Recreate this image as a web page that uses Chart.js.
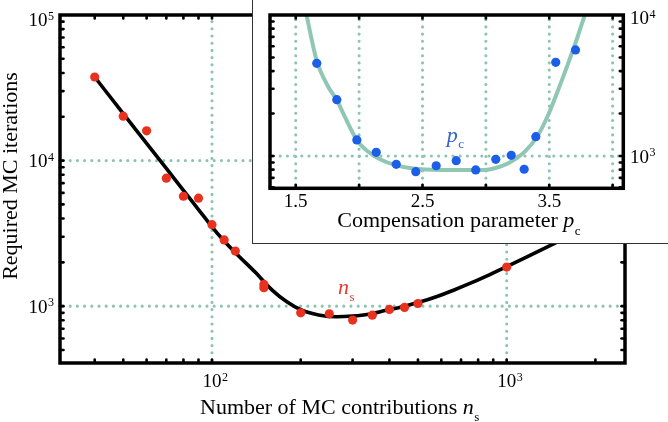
<!DOCTYPE html>
<html>
<head>
<meta charset="utf-8">
<script src="https://cdn.jsdelivr.net/npm/chart.js@4.4.0/dist/chart.umd.min.js"></script>
<style>
  html, body { margin: 0; padding: 0; background: #fff; }
  #wrap { position: relative; width: 668px; height: 422px; overflow: hidden; }
  #main { position: absolute; left: 0; top: 0; }
  #insetBox { position: absolute; left: 252px; top: -2px; width: 420px; height: 246px;
    box-sizing: border-box; border: 1.5px solid #333; background: #fff; }
  #inset { position: absolute; left: 253px; top: 0; }
</style>
</head>
<body>
<div id="wrap">
  <canvas id="main" width="668" height="422"></canvas>
  <div id="insetBox"></div>
  <canvas id="inset" width="415" height="242"></canvas>
</div>
<script>
// main plot: MC samples and fit
const mcContributions = [40, 50, 60, 70, 80, 90, 100, 110, 120, 150, 150, 200, 250, 300, 350, 400, 450, 500, 1000];
const mcIterations = [37500, 20200, 16000, 7570, 5690, 5520, 3630, 2850, 2390, 1410, 1340, 900, 886, 802, 867, 949, 980, 1043, 1857];
const fitContributions = [40, 50, 60, 70, 80, 90, 100, 110, 120, 140, 160, 180, 200, 230, 265, 300, 340, 390, 450, 510, 580, 660, 750, 850, 1000, 1200, 1500, 2000, 2500];
const fitIterations = [37500, 21000, 13150, 8830, 6250, 4610, 3510, 2800, 2330, 1715, 1290, 1067, 945, 871, 845, 855, 880, 937, 1000, 1071, 1166, 1287, 1432, 1603, 1871, 2233, 2791, 3722, 4652];

// inset: compensation parameter
const pcValues = [1.666, 1.824, 1.982, 2.135, 2.293, 2.447, 2.608, 2.766, 2.92, 3.078, 3.2, 3.302, 3.394, 3.551, 3.707];
const pcIterations = [4540, 2507, 1299, 1062, 873, 774, 853, 926, 796, 947, 1011, 805, 1371, 4620, 5650];
const pcFitValues = [1.585, 1.664, 1.756, 1.824, 1.887, 1.982, 2.072, 2.177, 2.282, 2.413, 2.65, 2.991, 3.07, 3.176, 3.307, 3.412, 3.491, 3.57, 3.649, 3.715, 3.78];
const pcFitIterations = [10000, 4800, 3100, 2495, 1900, 1298, 1073, 937, 864, 818, 796, 796, 818, 887, 1073, 1409, 1954, 2938, 4540, 6650, 10000];

// ticks and grid
const mainXLabels = [100, 1000];
const mainYLabels = [1000, 10000, 100000];
const mainXMinor = [40, 50, 60, 70, 80, 90, 100, 200, 300, 400, 500, 600, 700, 800, 900, 1000, 2000];
const mainYMinor = [500, 600, 700, 800, 900, 1000, 2000, 3000, 4000, 5000, 6000, 7000, 8000, 9000, 10000,
  20000, 30000, 40000, 50000, 60000, 70000, 80000, 90000];
const insetXLabels = [1.5, 2.5, 3.5];
const insetXGrid = [1.5, 2, 2.5, 3, 3.5, 4];
const insetYLabels = [1000, 10000];
const insetYMinor = [600, 700, 800, 900, 1000, 2000, 3000, 4000, 5000, 6000, 7000, 8000, 9000];

const SERIF = '"Liberation Serif", "Times New Roman", serif';
const RED = '#e8321f';
const BLUE = '#1b5ee8';
const TEAL = '#8fc7b4';
const GRID = '#8cc4b0';

Chart.defaults.font.family = SERIF;

function toXY(xs, ys) {
  return xs.map((x, i) => ({ x: x, y: ys[i] }));
}

function dotted(ctx, x1, y1, x2, y2) {
  ctx.save();
  ctx.strokeStyle = GRID;
  ctx.lineWidth = 3.1;
  ctx.lineCap = 'round';
  ctx.setLineDash([0, 7.2]);
  ctx.beginPath();
  ctx.moveTo(x1, y1);
  ctx.lineTo(x2, y2);
  ctx.stroke();
  ctx.restore();
}

function tickMark(ctx, x, y, dx, dy) {
  ctx.beginPath();
  ctx.moveTo(x, y);
  ctx.lineTo(x + dx, y + dy);
  ctx.stroke();
}

function drawTicks(ctx, area, xs, xVals, ys, yVals) {
  ctx.save();
  ctx.strokeStyle = '#000';
  ctx.lineWidth = 2.6;
  ctx.lineCap = 'round';
  xVals.forEach(v => {
    const px = xs.getPixelForValue(v);
    tickMark(ctx, px, area.bottom, 0, -3.5);
    tickMark(ctx, px, area.top, 0, 3.5);
  });
  yVals.forEach(v => {
    const py = ys.getPixelForValue(v);
    tickMark(ctx, area.left, py, 3.5, 0);
    tickMark(ctx, area.right, py, -3.5, 0);
  });
  ctx.restore();
}

function drawFrame(ctx, area) {
  ctx.save();
  ctx.strokeStyle = '#000';
  ctx.lineWidth = 3.5;
  ctx.strokeRect(area.left, area.top, area.right - area.left, area.bottom - area.top);
  ctx.restore();
}

// "10" with a raised exponent; align is where x sits: left, center (on the 10) or right
function drawPow(ctx, value, x, baseline, align) {
  const exp = String(Math.round(Math.log10(value)));
  ctx.save();
  ctx.fillStyle = '#000';
  ctx.textBaseline = 'alphabetic';
  ctx.textAlign = 'left';
  ctx.font = '19px ' + SERIF;
  const w = ctx.measureText('10').width;
  ctx.font = '12px ' + SERIF;
  const we = ctx.measureText(exp).width;
  let x0 = x;
  if (align === 'center') x0 = x - w / 2;
  if (align === 'right') x0 = x - w - we - 0.5;
  ctx.font = '19px ' + SERIF;
  ctx.fillText('10', x0, baseline);
  ctx.font = '12px ' + SERIF;
  ctx.fillText(exp, x0 + w + 0.5, baseline - 6.5);
  ctx.restore();
}

// normal text followed by italic symbol with subscript
function drawSymbolText(ctx, text, sym, sub, x, baseline, color, subDrop) {
  ctx.save();
  ctx.fillStyle = color;
  ctx.textBaseline = 'alphabetic';
  ctx.textAlign = 'left';
  ctx.font = '22px ' + SERIF;
  ctx.fillText(text, x, baseline);
  let cx = x + ctx.measureText(text).width;
  ctx.font = 'italic 22px ' + SERIF;
  ctx.fillText(sym, cx, baseline);
  cx += ctx.measureText(sym).width;
  ctx.font = '13px ' + SERIF;
  ctx.fillText(sub, cx + 0.5, baseline + subDrop);
  ctx.restore();
}

const mainDecor = {
  id: 'mainDecor',
  beforeDatasetsDraw(chart) {
    const { ctx, chartArea: a, scales: { x, y } } = chart;
    mainXLabels.forEach(v => {
      const px = x.getPixelForValue(v);
      dotted(ctx, px, a.bottom - 3, px, a.top + 3);
    });
    [1000, 10000].forEach(v => {
      const py = y.getPixelForValue(v);
      dotted(ctx, a.left + 3, py, a.right - 3, py);
    });
  },
  afterDatasetsDraw(chart) {
    const { ctx, chartArea: a, scales: { x, y } } = chart;
    drawTicks(ctx, a, x, mainXMinor, y, mainYMinor);
    drawFrame(ctx, a);
    mainXLabels.forEach(v => drawPow(ctx, v, x.getPixelForValue(v), 387, 'center'));
    mainYLabels.forEach(v => {
      const py = y.getPixelForValue(v);
      drawPow(ctx, v, 54, Math.max(py + 6.5, 26), 'right');
    });
    drawSymbolText(ctx, 'Number of MC contributions ', 'n', 's', 200, 414, '#000', 7);
    ctx.save();
    ctx.translate(17, 176);
    ctx.rotate(-Math.PI / 2);
    ctx.fillStyle = '#000';
    ctx.font = '22px ' + SERIF;
    ctx.textAlign = 'center';
    ctx.textBaseline = 'alphabetic';
    ctx.fillText('Required MC iterations', 0, 0);
    ctx.restore();
    drawSymbolText(ctx, '', 'n', 's', 338, 294, '#e0402f', 6.5);
  }
};

const insetDecor = {
  id: 'insetDecor',
  beforeDatasetsDraw(chart) {
    const { ctx, chartArea: a, scales: { x, y } } = chart;
    insetXGrid.forEach(v => {
      const px = x.getPixelForValue(v);
      dotted(ctx, px, a.bottom - 3, px, a.top + 3);
    });
    const py = y.getPixelForValue(1000);
    dotted(ctx, a.left + 3, py, a.right - 3, py);
  },
  afterDatasetsDraw(chart) {
    const { ctx, chartArea: a, scales: { x, y } } = chart;
    drawTicks(ctx, a, x, insetXGrid, y, insetYMinor);
    drawFrame(ctx, a);
    ctx.save();
    ctx.fillStyle = '#000';
    ctx.font = '19px ' + SERIF;
    ctx.textAlign = 'center';
    ctx.textBaseline = 'alphabetic';
    insetXLabels.forEach(v => ctx.fillText(v.toFixed(1), x.getPixelForValue(v), 206.5));
    ctx.restore();
    insetYLabels.forEach(v => {
      const py = y.getPixelForValue(v);
      drawPow(ctx, v, 377, Math.max(py + 6.8, 24), 'left');
    });
    drawSymbolText(ctx, 'Compensation parameter ', 'p', 'c', 84.3, 226.5, '#000', 8);
    drawSymbolText(ctx, '', 'p', 'c', 193.7, 141.5, '#2f62d6', 6.5);
  }
};

function hiddenAxis(type, min, max, pos) {
  return {
    type: type,
    position: pos,
    min: min,
    max: max,
    ticks: { display: false },
    grid: { display: false, drawTicks: false },
    border: { display: false }
  };
}

new Chart(document.getElementById('main').getContext('2d'), {
  type: 'scatter',
  data: {
    datasets: [
      {
        data: toXY(mcContributions, mcIterations),
        backgroundColor: RED,
        borderWidth: 0,
        pointRadius: 4.6,
        order: 0
      },
      {
        data: toXY(fitContributions, fitIterations),
        showLine: true,
        borderColor: '#000',
        borderWidth: 3.6,
        pointRadius: 0,
        cubicInterpolationMode: 'monotone',
        order: 1
      }
    ]
  },
  options: {
    responsive: false,
    animation: false,
    events: [],
    layout: { padding: { left: 60, top: 15, right: 43, bottom: 59 } },
    scales: {
      x: hiddenAxis('logarithmic', 30.5, 2520, 'bottom'),
      y: hiddenAxis('logarithmic', 407, 100000, 'left')
    },
    plugins: { legend: { display: false }, tooltip: { enabled: false } }
  },
  plugins: [mainDecor]
});

new Chart(document.getElementById('inset').getContext('2d'), {
  type: 'scatter',
  data: {
    datasets: [
      {
        data: toXY(pcValues, pcIterations),
        backgroundColor: BLUE,
        borderWidth: 0,
        pointRadius: 4.6,
        order: 0
      },
      {
        data: toXY(pcFitValues, pcFitIterations),
        showLine: true,
        borderColor: TEAL,
        borderWidth: 4,
        pointRadius: 0,
        cubicInterpolationMode: 'monotone',
        order: 1
      }
    ]
  },
  options: {
    responsive: false,
    animation: false,
    events: [],
    layout: { padding: { left: 17, top: 15, right: 44.7, bottom: 53.7 } },
    scales: {
      x: hiddenAxis('linear', 1.297, 4.084, 'bottom'),
      y: hiddenAxis('logarithmic', 590, 10000, 'right')
    },
    plugins: { legend: { display: false }, tooltip: { enabled: false } }
  },
  plugins: [insetDecor]
});
</script>
</body>
</html>
